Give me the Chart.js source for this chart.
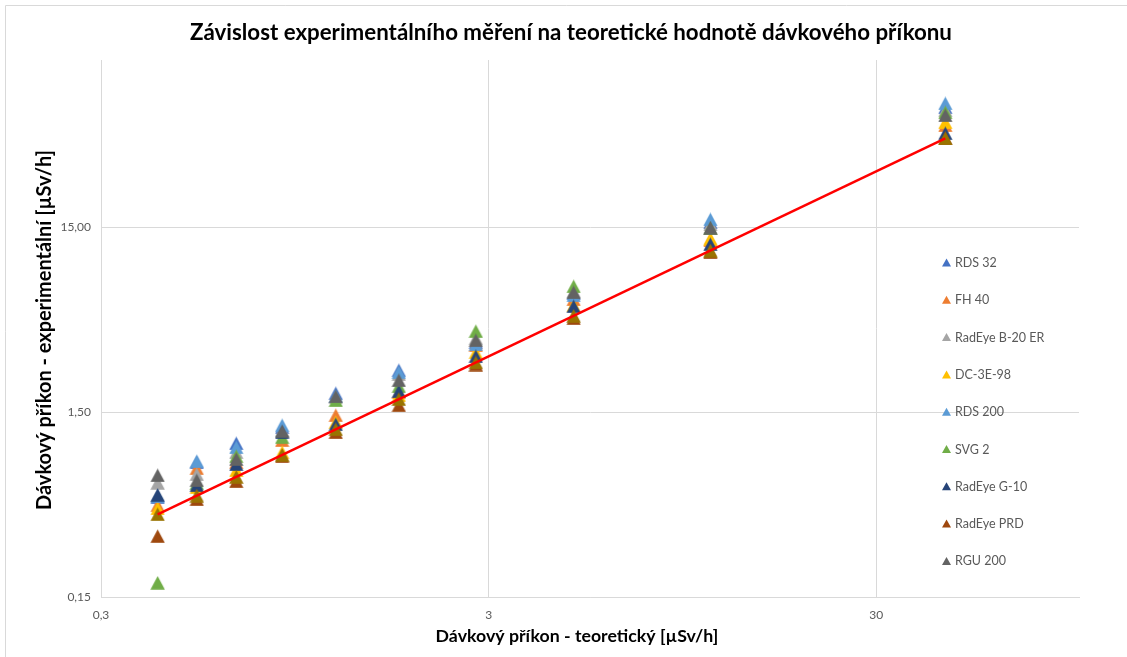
<!DOCTYPE html>
<html lang="cs">
<head>
<meta charset="utf-8">
<title>Závislost experimentálního měření na teoretické hodnotě dávkového příkonu</title>
<script src="https://cdn.jsdelivr.net/npm/chart.js@4.4.1/dist/chart.umd.min.js"></script>
<style>
  html, body { margin: 0; padding: 0; background: #ffffff; }
  #wrap { width: 1127px; height: 657px; position: relative; }
</style>
</head>
<body>
<div id="wrap"><canvas id="chart"></canvas></div>
<script>
// Teoretický dávkový příkon [µSv/h] – x pozice měřicích bodů
const theoretical = [0.42, 0.53, 0.67, 0.88, 1.21, 1.76, 2.78, 4.97, 11.2, 45.2];

// Naměřené hodnoty jednotlivých přístrojů [µSv/h]
const rds32      = [0.519, 0.802, 1.016, 1.240, 1.893, 2.52, 3.57, 6.57, 15.9, 66.5];
const fh40       = [0.470, 0.744, 0.802, 1.055, 1.440, 1.917, 3.44, 6.10, 12.7, 53.2];
const radeyeB20  = [0.621, 0.691, 0.908, 1.194, 1.801, 2.40, 3.75, 6.74, 15.5, 64.1];
const dc3e98     = [0.452, 0.588, 0.726, 0.908, 1.320, 1.847, 3.15, 5.66, 13.0, 55.2];
const rds200     = [0.525, 0.812, 0.966, 1.271, 1.824, 2.46, 3.48, 6.41, 16.5, 69.9];
const svg2       = [0.179, 0.618, 0.864, 1.095, 1.735, 2.065, 4.10, 7.17, 14.8, 62.5];
const radeyeG10  = [0.535, 0.602, 0.782, 1.165, 1.287, 1.941, 3.00, 5.59, 12.1, 48.2];
const radeyePRD  = [0.320, 0.506, 0.633, 0.864, 1.165, 1.631, 2.71, 4.82, 10.95, 45.3];
const rgu200     = [0.682, 0.641, 0.833, 1.180, 1.820, 2.226, 3.66, 6.65, 14.9, 60.2];

const seriesNames  = ['RDS 32', 'FH 40', 'RadEye B-20 ER', 'DC-3E-98', 'RDS 200', 'SVG 2', 'RadEye G-10', 'RadEye PRD', 'RGU 200'];
const seriesValues = [rds32, fh40, radeyeB20, dc3e98, rds200, svg2, radeyeG10, radeyePRD, rgu200];
const seriesColors = ['#4472C4', '#ED7D31', '#A5A5A5', '#FFC000', '#5B9BD5', '#70AD47', '#264478', '#9E480E', '#636363'];
const theoryColor  = '#997300';

// Osy
const xTickValues = [0.3, 3, 30];
const xTickLabels = ['0,3', '3', '30'];
const yTickValues = [0.15, 1.5, 15];
const yTickLabels = ['0,15', '1,50', '15,00'];
const xRange = [0.3, 100];
const yRange = [0.15, 120];

const chartTitle = 'Závislost experimentálního měření na teoretické hodnotě dávkového příkonu';
const xTitle = 'Dávkový příkon - teoretický [µSv/h]';
const yTitle = 'Dávkový příkon - experimentální [µSv/h]';

const FONT = 'Lato, "Open Sans", "DejaVu Sans", sans-serif';
const TEXT_GREY = '#595959';

// Trojúhelníkový značkovač jako obrázek (střed obrázku = střed bodu)
function triangleMarker(color, w, h) {
  const c = document.createElement('canvas');
  c.width = w; c.height = h;
  const g = c.getContext('2d');
  g.fillStyle = color;
  g.beginPath();
  g.moveTo(w / 2, 0.3);
  g.lineTo(w - 0.3, h - 0.3);
  g.lineTo(0.3, h - 0.3);
  g.closePath();
  g.fill();
  return c;
}

const datasets = seriesValues.map((vals, i) => ({
  label: seriesNames[i],
  data: vals.map((v, k) => ({ x: theoretical[k], y: v })),
  pointStyle: triangleMarker(seriesColors[i], 15, 14),
  backgroundColor: seriesColors[i],
  borderColor: seriesColors[i],
  showLine: false,
  order: 20 - i
}));

// Teoretické body (y = x)
datasets.push({
  label: 'teorie',
  data: theoretical.map(v => ({ x: v, y: v })),
  pointStyle: triangleMarker(theoryColor, 15, 14),
  backgroundColor: theoryColor,
  borderColor: theoryColor,
  showLine: false,
  order: 5
});

// Červená čára teoretické závislosti
datasets.push({
  label: 'teorie-cara',
  data: [theoretical[0], theoretical[theoretical.length - 1]].map(v => ({ x: v, y: v })),
  showLine: true,
  borderColor: '#FF0000',
  borderWidth: 2.5,
  pointRadius: 0,
  fill: false,
  order: 0
});

function fittedFont(ctx, text, weight, baseSize, targetWidth) {
  ctx.font = weight + ' ' + baseSize + 'px ' + FONT;
  const w = ctx.measureText(text).width;
  const size = baseSize * targetWidth / w;
  return weight + ' ' + size.toFixed(2) + 'px ' + FONT;
}

const decorPlugin = {
  id: 'decor',
  beforeDraw(chart) {
    const ctx = chart.ctx;
    ctx.save();
    ctx.strokeStyle = '#d9d9d9';
    ctx.lineWidth = 1;
    ctx.beginPath();
    ctx.moveTo(5.5, chart.height);
    ctx.lineTo(5.5, 5.5);
    ctx.lineTo(chart.width, 5.5);
    ctx.stroke();
    ctx.restore();
  },
  afterDraw(chart) {
    const ctx = chart.ctx;
    ctx.save();
    ctx.fillStyle = '#000000';
    ctx.textAlign = 'center';
    ctx.textBaseline = 'middle';

    // Nadpis grafu
    ctx.font = fittedFont(ctx, chartTitle, 'bold', 20, 762);
    ctx.fillText(chartTitle, 571, 33);

    // Popisek osy x
    ctx.font = fittedFont(ctx, xTitle, 'bold', 16, 283);
    ctx.fillText(xTitle, 577, 636);

    // Popisek osy y
    ctx.save();
    ctx.translate(45, 330);
    ctx.rotate(-Math.PI / 2);
    ctx.font = fittedFont(ctx, yTitle, 'bold', 16, 360);
    ctx.fillText(yTitle, 0, 0);
    ctx.restore();

    // Legenda
    ctx.textAlign = 'left';
    ctx.font = '12.5px ' + FONT;
    const lx = 946.5, ly0 = 262.5, step = 37.3;
    seriesNames.forEach((name, i) => {
      const y = ly0 + i * step;
      ctx.fillStyle = seriesColors[i];
      ctx.beginPath();
      ctx.moveTo(lx, y - 4);
      ctx.lineTo(lx + 4.5, y + 4);
      ctx.lineTo(lx - 4.5, y + 4);
      ctx.closePath();
      ctx.fill();
      ctx.fillStyle = TEXT_GREY;
      ctx.fillText(name, 955, y + 0.5);
    });
    ctx.restore();
  }
};

new Chart(document.getElementById('chart'), {
  type: 'scatter',
  data: { datasets },
  options: {
    responsive: true,
    maintainAspectRatio: false,
    animation: false,
    layout: { padding: { top: 60, right: 48, bottom: 0, left: 0 } },
    plugins: {
      legend: { display: false },
      title: { display: false },
      tooltip: { enabled: false }
    },
    elements: { point: { radius: 7, hoverRadius: 7 } },
    scales: {
      x: {
        type: 'logarithmic',
        min: xRange[0],
        max: xRange[1],
        afterFit: s => { s.height = 60; },
        afterBuildTicks: s => { s.ticks = xTickValues.map(v => ({ value: v })); },
        grid: { color: '#d9d9d9', drawTicks: false },
        border: { display: true, color: '#d9d9d9' },
        ticks: {
          padding: 11,
          color: TEXT_GREY,
          font: { family: FONT, size: 12 },
          maxRotation: 0,
          autoSkip: false,
          callback: (v, i) => xTickLabels[i]
        }
      },
      y: {
        type: 'logarithmic',
        min: yRange[0],
        max: yRange[1],
        afterFit: s => { s.width = 101; },
        afterBuildTicks: s => { s.ticks = yTickValues.map(v => ({ value: v })); },
        grid: { color: '#d9d9d9', drawTicks: false },
        border: { display: true, color: '#d9d9d9' },
        ticks: {
          padding: 10,
          color: TEXT_GREY,
          font: { family: FONT, size: 12 },
          autoSkip: false,
          callback: (v, i) => yTickLabels[i]
        }
      }
    }
  },
  plugins: [decorPlugin]
});
</script>
</body>
</html>
